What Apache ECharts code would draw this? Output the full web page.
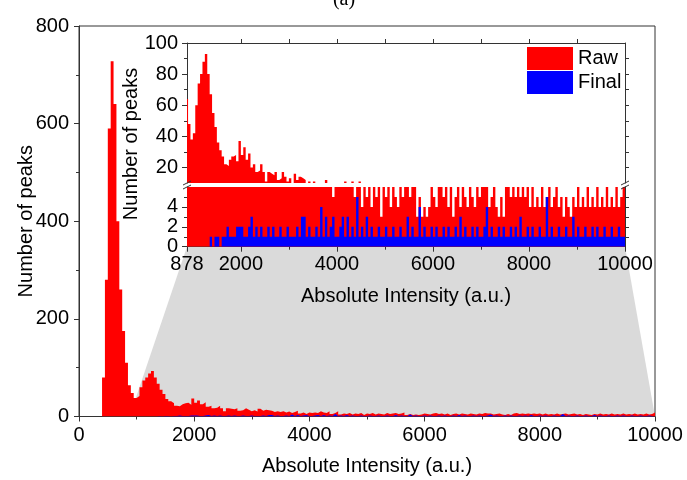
<!DOCTYPE html>
<html>
<head>
<meta charset="utf-8">
<script src="https://cdn.jsdelivr.net/npm/echarts@6/dist/echarts.min.js"></script>
<style>
  html, body { margin: 0; padding: 0; background: #fff; }
  #chart { width: 687px; height: 480px; }
</style>
</head>
<body>
<div id="chart"></div>
<script>
// histogram bins (a.u.): left edge of the first bin and the bin width
var binStart = 350;
var binWidth = 50;

// raw peak counts, one per bin from 350 to 9950
var rawCounts = [
  0, 80, 280, 590, 728, 640, 400, 260, 175, 110, 64, 48, 38,
  42, 60, 74, 80, 88, 93, 80, 67, 55, 46, 36, 31, 27, 22, 21, 25, 27, 28, 24, 37,
  28, 33, 25, 29, 20, 22, 17, 18, 22, 17, 11, 17, 16, 15, 17, 12, 13, 17, 14, 11,
  13, 10, 16, 12, 14, 13, 12, 9, 11, 9, 11, 8, 10, 7, 9, 12, 6, 8, 5, 8,
  7, 8, 7, 11, 8, 7, 11, 5, 7, 11, 4, 6, 5, 7, 4, 6, 5, 7, 3, 6,
  5, 7, 4, 6, 5, 4, 7, 5, 6, 7, 5, 6, 8, 3, 5, 3, 4, 3, 4, 6,
  5, 4, 6, 7, 5, 6, 4, 6, 3, 5, 6, 4, 6, 5, 4, 6, 5, 4, 6, 5,
  7, 6, 6, 4, 5, 6, 4, 3, 5, 3, 6, 7, 5, 6, 5, 6, 5, 6, 5, 6,
  4, 6, 4, 5, 4, 6, 4, 5, 6, 4, 5, 6, 4, 5, 3, 5, 4, 3, 5, 4,
  6, 4, 5, 4, 6, 4, 5, 4, 6, 4, 5, 4, 6, 4, 5, 4, 6, 4, 5, 8
];

// peaks kept after filtering, same bins
var finalCounts = [
  0, 0, 0, 0, 0, 0, 0, 0, 0, 0, 0, 0, 0,
  0, 0, 0, 0, 0, 0, 0, 1, 0, 1, 1, 0, 1, 1, 2, 1, 1, 1, 2, 2,
  2, 1, 1, 2, 3, 1, 2, 1, 2, 1, 1, 2, 1, 2, 1, 1, 2, 1, 1, 2,
  1, 1, 1, 2, 1, 3, 3, 1, 2, 1, 1, 2, 1, 4, 1, 3, 1, 2, 3, 1,
  1, 2, 3, 1, 3, 1, 2, 1, 5, 1, 2, 1, 3, 1, 2, 1, 1, 2, 1, 1,
  2, 1, 1, 2, 1, 1, 2, 1, 1, 3, 1, 2, 1, 1, 4, 1, 2, 1, 1, 2,
  1, 2, 1, 1, 2, 1, 2, 1, 1, 2, 1, 3, 1, 2, 1, 1, 2, 1, 2, 1,
  1, 2, 4, 1, 2, 1, 1, 2, 1, 2, 1, 1, 2, 1, 2, 1, 3, 1, 1, 2,
  1, 2, 1, 1, 2, 1, 1, 5, 1, 2, 1, 1, 2, 1, 1, 2, 1, 1, 3, 1,
  2, 1, 1, 2, 1, 1, 2, 1, 2, 1, 1, 2, 1, 1, 2, 1, 1, 2, 1, 1
];

// axis ranges and tick positions
var xMax = 10000;
var insetXMin = 878;
var insetXLabels = [878, 2000, 4000, 6000, 8000, 10000];
var insetXMinor = [3000, 5000, 7000, 9000];
var insetTopTicks = [2000, 3000, 4000, 5000, 6000, 7000, 8000, 9000];
var upperYMin = 10, upperYMax = 100;
var upperYLabels = [20, 40, 60, 80, 100];
var upperYMinor = [30, 50, 70, 90];
var upperYRight = [20, 30, 40, 50, 60, 70, 80, 90];
var lowerYMax = 6;
var lowerYLabels = [0, 2, 4];
var lowerYMinor = [1, 3, 5];
var lowerYRight = [1, 2, 3, 4, 5];

var FONT = 'Liberation Sans, Arial, sans-serif';
var AXIS_COLOR = '#333';
var RED = '#ff0000';
var BLUE = '#0000ff';

// stepped outline: each bin holds its count until the next bin edge,
// and the histogram closes at the right edge of the last bin
function toSteps(counts) {
  var pts = counts.map(function (c, i) { return [binStart + i * binWidth, c]; });
  pts.push([binStart + counts.length * binWidth, 0]);
  return pts;
}
var rawData = toSteps(rawCounts);
var finalData = toSteps(finalCounts);

function hist(name, data, color, xi, yi) {
  return {
    type: 'line',
    name: name,
    xAxisIndex: xi,
    yAxisIndex: yi,
    data: data,
    step: 'end',
    showSymbol: false,
    symbol: 'none',
    clip: true,
    silent: true,
    itemStyle: { color: color },
    lineStyle: { color: color, width: 0 },
    areaStyle: { color: color, opacity: 1, origin: 'start' }
  };
}

function plain(v) { return String(v); }

var label = { color: '#000', fontSize: 20, fontFamily: FONT };
var line = { show: true, onZero: false, lineStyle: { color: AXIS_COLOR, width: 1 } };
var noLine = { show: false, onZero: false };

var chart = echarts.init(document.getElementById('chart'));

chart.setOption({
  animation: false,
  backgroundColor: '#fff',
  legend: {
    data: ['Raw', 'Final'],
    orient: 'vertical',
    left: 527,
    top: 47,
    padding: 0,
    itemWidth: 46,
    itemHeight: 23,
    itemGap: 1,
    icon: 'rect',
    selectedMode: false,
    itemStyle: { borderWidth: 0 },
    textStyle: { color: '#000', fontSize: 20, fontFamily: FONT }
  },
  grid: [
    { left: 79, right: 32, top: 26, bottom: 63.5, outerBoundsMode: 'none', show: true, borderColor: AXIS_COLOR, borderWidth: 1 },
    { left: 187, right: 62, top: 43, height: 140, outerBoundsMode: 'none' },
    { left: 187, right: 62, top: 187, height: 59.7, outerBoundsMode: 'none' }
  ],
  xAxis: [
    {
      gridIndex: 0, type: 'value', min: 0, max: xMax, interval: 2000,
      axisLine: line,
      axisTick: { show: true, length: 5, lineStyle: { color: AXIS_COLOR } },
      minorTick: { show: true, splitNumber: 2, length: 3, lineStyle: { color: AXIS_COLOR } },
      splitLine: { show: false },
      axisLabel: Object.assign({ margin: 9, formatter: plain }, label),
      name: 'Absolute Intensity (a.u.)', nameLocation: 'middle', nameGap: 40,
      nameMoveOverlap: false,
      nameTextStyle: label
    },
    {
      gridIndex: 1, type: 'value', min: insetXMin, max: xMax, position: 'top',
      axisLine: line,
      axisTick: { show: true, length: 4, customValues: insetTopTicks, lineStyle: { color: AXIS_COLOR } },
      axisLabel: { show: false },
      splitLine: { show: false }
    },
    {
      gridIndex: 2, type: 'value', min: insetXMin, max: xMax, position: 'bottom',
      axisLine: line,
      axisTick: { show: true, length: 5, customValues: insetXLabels, lineStyle: { color: AXIS_COLOR } },
      axisLabel: Object.assign({ margin: 8, customValues: insetXLabels, formatter: plain }, label),
      splitLine: { show: false },
      name: 'Absolute Intensity (a.u.)', nameLocation: 'middle', nameGap: 40,
      nameMoveOverlap: false,
      nameTextStyle: label
    },
    {
      gridIndex: 2, type: 'value', min: insetXMin, max: xMax, position: 'bottom',
      axisLine: noLine,
      axisTick: { show: true, length: 3, customValues: insetXMinor, lineStyle: { color: AXIS_COLOR } },
      axisLabel: { show: false },
      splitLine: { show: false }
    }
  ],
  yAxis: [
    {
      gridIndex: 0, type: 'value', min: 0, max: 800, interval: 200,
      axisLine: line,
      axisTick: { show: true, length: 5, lineStyle: { color: AXIS_COLOR } },
      minorTick: { show: true, splitNumber: 2, length: 3, lineStyle: { color: AXIS_COLOR } },
      splitLine: { show: false },
      axisLabel: Object.assign({ margin: 10, formatter: plain }, label),
      name: 'Number of peaks', nameLocation: 'middle', nameGap: 43,
      nameMoveOverlap: false,
      nameTextStyle: label
    },
    {
      gridIndex: 1, type: 'value', min: upperYMin, max: upperYMax, position: 'left',
      axisLine: line,
      axisTick: { show: true, length: 5, customValues: upperYLabels, lineStyle: { color: AXIS_COLOR } },
      axisLabel: Object.assign({ margin: 9, customValues: upperYLabels, formatter: plain }, label),
      splitLine: { show: false }
    },
    {
      gridIndex: 1, type: 'value', min: upperYMin, max: upperYMax, position: 'left',
      axisLine: noLine,
      axisTick: { show: true, length: 3, customValues: upperYMinor, lineStyle: { color: AXIS_COLOR } },
      axisLabel: { show: false },
      splitLine: { show: false }
    },
    {
      gridIndex: 1, type: 'value', min: upperYMin, max: upperYMax, position: 'right',
      axisLine: line,
      axisTick: { show: true, length: 4, customValues: upperYRight, lineStyle: { color: AXIS_COLOR } },
      axisLabel: { show: false },
      splitLine: { show: false }
    },
    {
      gridIndex: 2, type: 'value', min: 0, max: lowerYMax, position: 'left',
      axisLine: line,
      axisTick: { show: true, length: 5, customValues: lowerYLabels, lineStyle: { color: AXIS_COLOR } },
      axisLabel: Object.assign({ margin: 9, customValues: lowerYLabels, formatter: plain }, label),
      splitLine: { show: false }
    },
    {
      gridIndex: 2, type: 'value', min: 0, max: lowerYMax, position: 'right',
      axisLine: line,
      axisTick: { show: true, length: 4, customValues: lowerYRight, lineStyle: { color: AXIS_COLOR } },
      axisLabel: { show: false },
      splitLine: { show: false }
    },
    {
      gridIndex: 2, type: 'value', min: 0, max: lowerYMax, position: 'left',
      axisLine: noLine,
      axisTick: { show: true, length: 3, customValues: lowerYMinor, lineStyle: { color: AXIS_COLOR } },
      axisLabel: { show: false },
      splitLine: { show: false }
    }
  ],
  series: [
    hist('Raw', rawData, RED, 0, 0),
    hist('Final', finalData, BLUE, 0, 0),
    hist('Raw', rawData, RED, 1, 1),
    hist('Final', finalData, BLUE, 1, 1),
    hist('Raw', rawData, RED, 2, 4),
    hist('Final', finalData, BLUE, 2, 4)
  ]
});

// zoom polygon, axis break marks, inset y name and panel label
var mainL = chart.convertToPixel({ xAxisIndex: 0, yAxisIndex: 0 }, [insetXMin, 0]);
var mainR = chart.convertToPixel({ xAxisIndex: 0, yAxisIndex: 0 }, [xMax, 0]);
var insL = chart.convertToPixel({ xAxisIndex: 2, yAxisIndex: 4 }, [insetXMin, 0]);
var insR = chart.convertToPixel({ xAxisIndex: 2, yAxisIndex: 4 }, [xMax, 0]);
var upBot = chart.convertToPixel({ xAxisIndex: 1, yAxisIndex: 1 }, [insetXMin, upperYMin])[1];
var loTop = chart.convertToPixel({ xAxisIndex: 2, yAxisIndex: 4 }, [insetXMin, lowerYMax])[1];

function breakMarks(x) {
  return [upBot, loTop].map(function (y) {
    return {
      type: 'line', z: 10,
      shape: { x1: x - 4, y1: y + 2, x2: x + 4, y2: y - 2 },
      style: { stroke: AXIS_COLOR, lineWidth: 1 }
    };
  });
}

chart.setOption({
  graphic: [
    {
      type: 'polygon', z: -1,
      shape: { points: [mainL, insL, insR, mainR] },
      style: { fill: '#dadada' }
    },
    {
      type: 'text', z: 10,
      x: 131, y: (upBot + loTop) / 2 - 41, rotation: Math.PI / 2,
      style: { text: 'Number of peaks', fill: '#000', font: '20px ' + FONT, align: 'center', verticalAlign: 'middle' }
    },
    {
      type: 'text', z: 10,
      x: 344, y: 10,
      style: { text: '(a)', fill: '#000', font: '20px Liberation Serif, serif', align: 'center', verticalAlign: 'bottom' }
    }
  ].concat(breakMarks(insL[0])).concat(breakMarks(insR[0]))
});
</script>
</body>
</html>
